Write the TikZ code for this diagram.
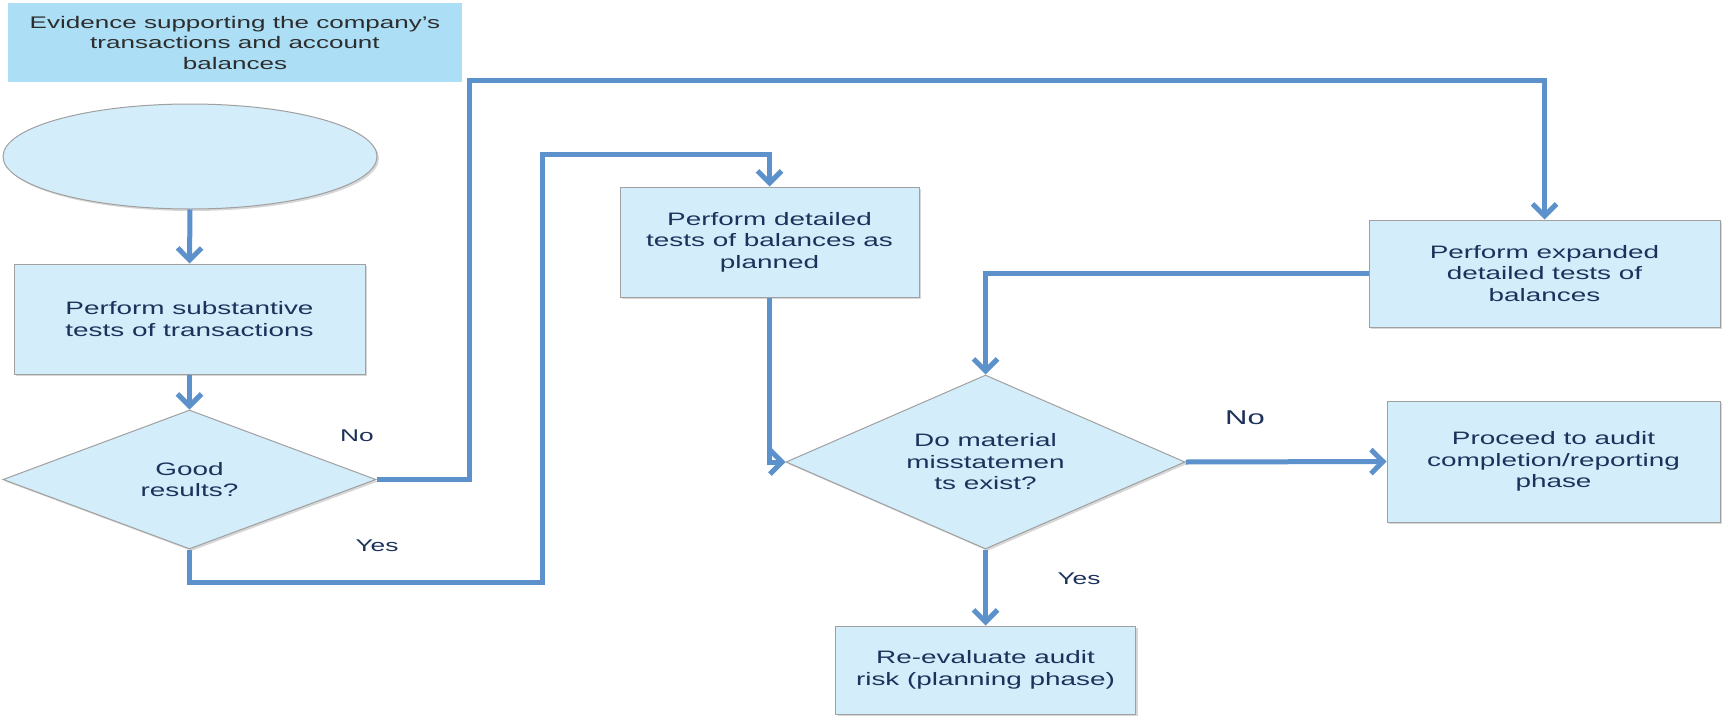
\documentclass[tikz,border=0pt]{standalone}
\usepackage{fontspec}
\setmainfont{Liberation Sans}[FakeStretch=1.55]
\usetikzlibrary{shapes.geometric,arrows.meta,shadows}
\definecolor{boxfill}{RGB}{212,237,251}
\definecolor{headfill}{RGB}{172,223,246}
\definecolor{edgegray}{RGB}{160,160,160}
\definecolor{flow}{RGB}{92,145,203}
\definecolor{ink}{RGB}{28,50,90}
\definecolor{headink}{RGB}{45,45,45}
\begin{document}
\begin{tikzpicture}[x=1pt,y=-1pt,
  softshadow/.style={drop shadow={shadow xshift=2pt,shadow yshift=-2pt,fill=black!35,opacity=0.45}},
  card/.style={rectangle,draw=edgegray,line width=1pt,fill=boxfill,softshadow,
    align=center,text=ink,font=\fontsize{18}{21.5}\selectfont,inner sep=0pt},
  choice/.style={diamond,draw=edgegray,line width=1pt,fill=boxfill,softshadow,inner sep=0pt},
  choicetext/.style={align=center,text=ink,font=\fontsize{18}{21.5}\selectfont,inner sep=0pt},
  flowline/.style={draw=flow,line width=5pt,-{Straight Barb[length=12pt,width=24pt]}},
  tag/.style={text=ink,font=\fontsize{17}{20}\selectfont,inner sep=0pt}]
\useasboundingbox (0,0) rectangle (1723,717);

% heading
\node[rectangle,fill=headfill,minimum width=454pt,minimum height=79pt,inner sep=0pt,
  align=center,text=headink,font=\fontsize{16.8}{20.5}\selectfont] (head) at (235,42.5)
  {Evidence supporting the company’s\\transactions and account\\balances};

% nodes
\node[ellipse,draw=edgegray,line width=1pt,fill=boxfill,softshadow,
  minimum width=374pt,minimum height=105pt] (ell) at (190,156.5) {};
\node[card,minimum width=351pt,minimum height=110pt] (b1) at (189.5,319)
  {Perform substantive\\tests of transactions};
\node[choice,minimum width=373pt,minimum height=139pt] (d1) at (189.5,479.5) {};
\node[choicetext] (d1text) at (d1.center) {Good\\results?};
\node[card,minimum width=299pt,minimum height=110pt] (b2) at (769.5,242)
  {Perform detailed\\tests of balances as\\planned};
\node[card,minimum width=351pt,minimum height=107pt] (exp) at (1544.5,273.5)
  {Perform expanded\\detailed tests of\\balances};
\node[choice,minimum width=399pt,minimum height=174pt] (d2) at (985.5,462) {};
\node[choicetext] (d2text) at (d2.center) {Do material\\misstatemen\\ts exist?};
\node[card,minimum width=333pt,minimum height=121pt] (proc) at (1553.5,461.5)
  {Proceed to audit\\completion/reporting\\phase};
\node[card,minimum width=300pt,minimum height=88pt] (re) at (985.5,670)
  {Re-evaluate audit\\risk (planning phase)};

% labels
\node[tag] (no1) at (357,436) {No};
\node[tag] (yes1) at (377,546) {Yes};
\node[tag,font=\fontsize{20}{24}\selectfont] (no2) at (1245,418) {No};
\node[tag] (yes2) at (1079,579) {Yes};

% connectors
\draw[flowline] (ell.south) -- (b1.north);
\draw[flowline] (b1.south) -- (d1.north);
\draw[flowline] (d1.east) -| (469,80) -| (exp.north);
\draw[flowline] (d1.south) |- (542,582) -- (542,154) -| (b2.north);
\draw[flowline] (b2.south) |- (d2.west);
\draw[flowline] (exp.west) -| (d2.north);
\draw[flowline] (d2.east) -- (proc.west);
\draw[flowline] (d2.south) -- (re.north);
\end{tikzpicture}
\end{document}
